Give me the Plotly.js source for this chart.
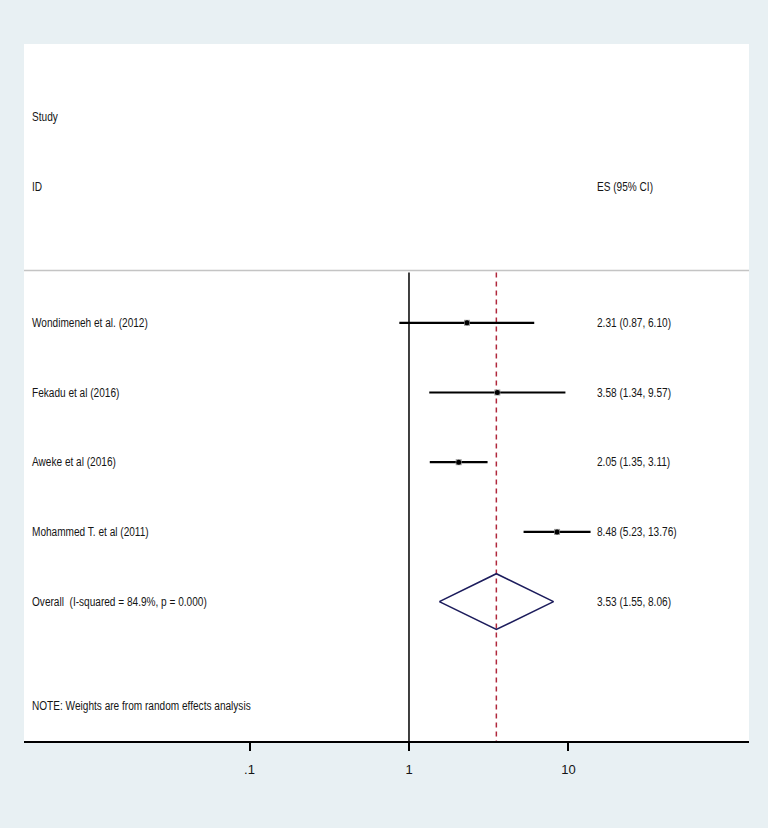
<!DOCTYPE html>
<html>
<head>
<meta charset="utf-8">
<script src="https://cdn.plot.ly/plotly-3.0.1.min.js"></script>
<style>
  body { margin: 0; background: #e8f0f3; }
  #chart { width: 768px; height: 828px; }
</style>
</head>
<body>
<div id="chart"></div>
<script>
// Study-level estimates (odds ratios, 95% CI)
const studies = [
  "Wondimeneh et al. (2012)",
  "Fekadu et al (2016)",
  "Aweke et al (2016)",
  "Mohammed T. et al (2011)",
];
const es = [2.31, 3.58, 2.05, 8.48];
const lo = [0.87, 1.34, 1.35, 5.23];
const hi = [6.1, 9.57, 3.11, 13.76];

// Pooled estimate
const overallLabel = "Overall  (I-squared = 84.9%, p = 0.000)";
const overallEs = 3.53;
const overallLo = 1.55;
const overallHi = 8.06;

const tickVals = [0.1, 1, 10];
const tickText = [".1", "1", "10"];

const FONT = "'Liberation Sans Narrow', 'Arial Narrow', 'Liberation Sans', sans-serif";
const TXT = "#151515";

const rows = studies.map((_, i) => i);
const overallRow = studies.length;

const traces = [];

// reference line at 1 and dashed overall line
traces.push({
  x: [1, 1],
  y: [-0.72, 6],
  mode: "lines",
  line: { color: "#000", width: 1.5 },
  hoverinfo: "skip",
});
traces.push({
  x: [overallEs, overallEs],
  y: [-0.72, 6],
  mode: "lines",
  line: { color: "#b0283c", width: 1.5, dash: "5px,4px" },
  hoverinfo: "skip",
});

// confidence interval whiskers
studies.forEach((s, i) => {
  traces.push({
    x: [lo[i], hi[i]],
    y: [i, i],
    mode: "lines",
    line: { color: "#000", width: 2.2 },
    hoverinfo: "skip",
  });
});

// weight boxes + point estimates
traces.push({
  x: es,
  y: rows,
  mode: "markers",
  marker: { symbol: "square", size: 6, color: "#9a9a9a" },
  hoverinfo: "skip",
});
traces.push({
  x: es,
  y: rows,
  mode: "markers",
  marker: { symbol: "circle", size: 5, color: "#000" },
  hoverinfo: "skip",
});

// overall diamond
traces.push({
  x: [overallLo, overallEs, overallHi, overallEs, overallLo],
  y: [overallRow, overallRow - 0.4, overallRow, overallRow + 0.4, overallRow],
  mode: "lines",
  line: { color: "#1c1c5c", width: 1.6 },
  hoverinfo: "skip",
});

const annotations = [];
function addText(text, xp, yv) {
  annotations.push({
    text: text,
    xref: "paper",
    yref: "y",
    x: xp,
    y: yv,
    xanchor: "left",
    yanchor: "middle",
    showarrow: false,
    font: { family: FONT, size: 12, color: TXT },
  });
}

const LEFT = 0.008;
const RIGHT = 0.787;

addText("Study", LEFT, -2.95);
addText("ID", LEFT, -1.95);
addText("ES (95% CI)", RIGHT, -1.95);

studies.forEach((s, i) => {
  addText(s, LEFT, i);
  addText(es[i].toFixed(2) + " (" + lo[i].toFixed(2) + ", " + hi[i].toFixed(2) + ")", RIGHT, i);
});
addText(overallLabel, LEFT, overallRow);
addText(overallEs.toFixed(2) + " (" + overallLo.toFixed(2) + ", " + overallHi.toFixed(2) + ")", RIGHT, overallRow);
addText("NOTE: Weights are from random effects analysis", LEFT, 5.5);

const layout = {
  width: 768,
  height: 828,
  margin: { l: 24, r: 19, t: 44, b: 87 },
  paper_bgcolor: "#e8f0f3",
  plot_bgcolor: "#ffffff",
  showlegend: false,
  font: { family: FONT, size: 12, color: TXT },
  xaxis: {
    type: "log",
    range: [-2.414, 2.132],
    tickvals: tickVals,
    ticktext: tickText,
    ticks: "outside",
    ticklen: 8,
    tickwidth: 2,
    tickcolor: "#000",
    ticklabelstandoff: 8,
    showline: true,
    linecolor: "#000",
    linewidth: 1.6,
    showgrid: false,
    zeroline: false,
    tickfont: { family: FONT, size: 13, color: TXT },
    fixedrange: true,
  },
  yaxis: {
    range: [6, -4],
    showgrid: false,
    zeroline: false,
    showticklabels: false,
    showline: false,
    ticks: "",
    fixedrange: true,
  },
  shapes: [
    {
      type: "line",
      xref: "paper",
      yref: "y",
      x0: 0,
      x1: 1,
      y0: -0.75,
      y1: -0.75,
      line: { color: "#c4c4c4", width: 1.6 },
    },
  ],
  annotations: annotations,
};

Plotly.newPlot("chart", traces, layout, { displayModeBar: false, staticPlot: true }).then(function () {
  // squeeze the labels to look like the narrow Stata font, keeping the left edge
  document.querySelectorAll("#chart .annotation-text").forEach(function (t) {
    const bb = t.getBBox();
    const w = t.getComputedTextLength();
    t.setAttribute("text-anchor", "start");
    t.setAttribute("x", bb.x);
    t.setAttribute("textLength", (w * 0.84).toFixed(1));
    t.setAttribute("lengthAdjust", "spacingAndGlyphs");
  });
});
</script>
</body>
</html>
